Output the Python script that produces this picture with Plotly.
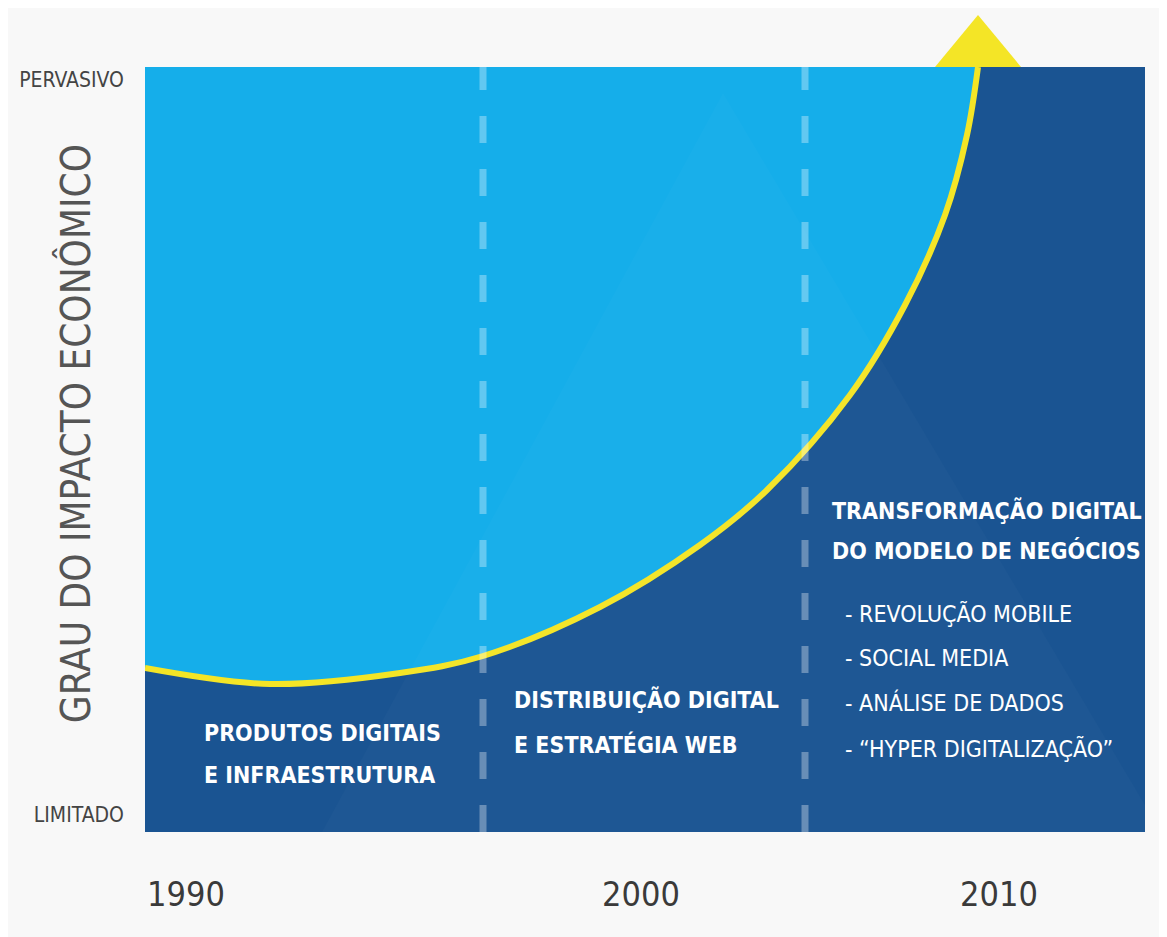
import plotly.graph_objects as go

# ---- data (abstract units: x = time axis 0..1000, y = impact 0..765) ----
curve_x = [0, 125, 255, 338, 455, 555, 622, 705, 760, 800, 822, 833]
curve_y = [164, 148, 159, 176, 225, 287, 342, 437, 527, 617, 697, 765]
x_max = 1000
y_max = 765
era_bounds = [338, 660]
tick_pos = [41, 496, 854]
tick_labels = ["1990", "2000", "2010"]
level_pos = [17, 752]
level_labels = ["LIMITADO", "PERVASIVO"]
y_title = "GRAU DO IMPACTO ECONÔMICO"

era1_lines = ["PRODUTOS DIGITAIS", "E INFRAESTRUTURA"]
era2_lines = ["DISTRIBUIÇÃO DIGITAL", "E ESTRATÉGIA WEB"]
era3_lines = ["TRANSFORMAÇÃO DIGITAL", "DO MODELO DE NEGÓCIOS"]
era3_items = ["- REVOLUÇÃO MOBILE", "- SOCIAL MEDIA", "- ANÁLISE DE DADOS", "- “HYPER DIGITALIZAÇÃO”"]

FONT = "DejaVu Sans Condensed, Liberation Sans Narrow, sans-serif"
LIGHT = "#15aeea"
DARK = "#1a5492"
YELLOW = "#f4e526"

fig = go.Figure()

# top boundary (invisible) for the light-blue fill
fig.add_trace(go.Scatter(x=[curve_x[0], curve_x[-1]], y=[y_max, y_max], mode="lines",
                         line=dict(width=0, color=LIGHT), hoverinfo="skip", showlegend=False))
# light region above the curve
fig.add_trace(go.Scatter(x=curve_x, y=curve_y, mode="lines", fill="tonexty", fillcolor=LIGHT,
                         line=dict(width=0, shape="spline", color=LIGHT),
                         hoverinfo="skip", showlegend=False))
# yellow curve
fig.add_trace(go.Scatter(x=curve_x, y=curve_y, mode="lines",
                         line=dict(width=6, shape="spline", color=YELLOW),
                         hoverinfo="skip", showlegend=False))

shapes = []
# faint background pyramid
shapes.append(dict(type="path", xref="x", yref="y",
                   path="M 177,0 L 578,739 L 1000,27 L 1000,0 Z",
                   fillcolor="rgba(255,255,255,0.02)", line=dict(width=0), layer="above"))
for xb in era_bounds:
    shapes.append(dict(type="line", xref="x", yref="y", x0=xb, x1=xb, y0=0, y1=y_max,
                       line=dict(color="rgba(255,255,255,0.33)", width=7, dash="27px,26px"),
                       layer="above"))
# arrow head at the end of the curve (paper coords so it is not clipped)
ax = curve_x[-1] / x_max
half_w = 0.043
head_h = 0.068
shapes.append(dict(type="path", xref="paper", yref="paper",
                   path="M %.4f,1 L %.4f,1 L %.4f,%.4f Z" % (ax - half_w, ax + half_w, ax, 1 + head_h),
                   fillcolor=YELLOW, line=dict(width=0), layer="above"))

annotations = []
def add_line(text, x, y, size, bold=True, color="white"):
    annotations.append(dict(x=x, y=y, xref="x", yref="y", text=("<b>%s</b>" % text) if bold else text,
                            showarrow=False, xanchor="left", yanchor="middle",
                            font=dict(family=FONT, size=size, color=color)))

# era 1
add_line(era1_lines[0], 57, 99, 23)
add_line(era1_lines[1], 57, 57, 23)
# era 2
add_line(era2_lines[0], 367, 133, 23)
add_line(era2_lines[1], 367, 88, 23)
# era 3
add_line(era3_lines[0], 685, 322, 23)
add_line(era3_lines[1], 685, 282, 23)
item_y = [219, 174, 130, 84]
for t, yy in zip(era3_items, item_y):
    add_line(t, 698, yy, 23, bold=False)

# y-axis title
annotations.append(dict(x=-0.07, y=0.52, xref="paper", yref="paper", text=y_title,
                        textangle=-90, showarrow=False, xanchor="center", yanchor="middle",
                        font=dict(family=FONT, size=40, color="#555555")))

fig.update_layout(
    width=1159, height=929, autosize=False,
    margin=dict(l=137, r=22, t=59, b=105),
    paper_bgcolor="#f8f8f8", plot_bgcolor=DARK,
    shapes=shapes, annotations=annotations,
    xaxis=dict(range=[0, x_max], showgrid=False, zeroline=False, showline=False,
               tickmode="array", tickvals=tick_pos, ticktext=tick_labels, ticks="",
               ticklabelstandoff=39,
               tickfont=dict(family=FONT, size=34, color="#3a3a3a"), fixedrange=True),
    yaxis=dict(range=[0, y_max], showgrid=False, zeroline=False, showline=False,
               tickmode="array", tickvals=level_pos, ticktext=level_labels, ticks="",
               ticklabelstandoff=20,
               tickfont=dict(family=FONT, size=21, color="#444444"), fixedrange=True),
    showlegend=False,
)

fig.write_html("out.html")
